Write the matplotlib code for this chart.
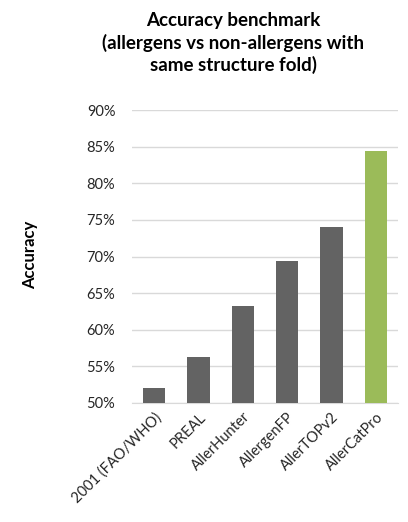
import matplotlib
matplotlib.use("Agg")
import matplotlib.pyplot as plt
from matplotlib.ticker import PercentFormatter

# ----------------------------------------------------------------------
# Data
# ----------------------------------------------------------------------
methods = ["2001 (FAO/WHO)", "PREAL", "AllerHunter", "AllergenFP",
           "AllerTOPv2", "AllerCatPro"]
accuracy = [52.1, 56.3, 63.3, 69.4, 74.1, 84.4]
colors = ["#636363"] * 5 + ["#9bbb59"]

plt.rcParams["font.family"] = ["Lato", "DejaVu Sans"]

fig = plt.figure(figsize=(4.08, 5.22), dpi=100)
ax = fig.add_axes([0.3235, 0.228, 0.652, 0.561])

x = range(len(methods))
ax.bar(x, accuracy, width=0.5, color=colors, zorder=3)

ax.set_ylim(50, 90)
ax.set_xlim(-0.5, len(methods) - 0.5)
ax.set_yticks(range(50, 91, 5))
ax.yaxis.set_major_formatter(PercentFormatter(decimals=0))
ax.grid(axis="y", color="#d9d9d9", linewidth=1, zorder=0)

for side in ["top", "right", "left"]:
    ax.spines[side].set_visible(False)
ax.spines["bottom"].set_color("#d9d9d9")
ax.tick_params(length=0, labelsize=10.5, colors="#262626")
ax.tick_params(axis="y", pad=12)
ax.tick_params(axis="x", pad=5)

ax.set_xticks(list(x))
ax.set_xticklabels(methods, rotation=45, ha="right", rotation_mode="anchor")

fig.text(30 / 408, 1 - 255 / 522, "Accuracy", rotation=90, fontsize=12,
         weight="bold", ha="center", va="center")
fig.text(233 / 408, 1 - 43 / 522,
         "Accuracy benchmark\n(allergens vs non-allergens with\nsame structure fold)",
         ha="center", va="center", fontsize=13.5, weight="bold", linespacing=1.3)

fig.savefig("out.png", dpi=100)
